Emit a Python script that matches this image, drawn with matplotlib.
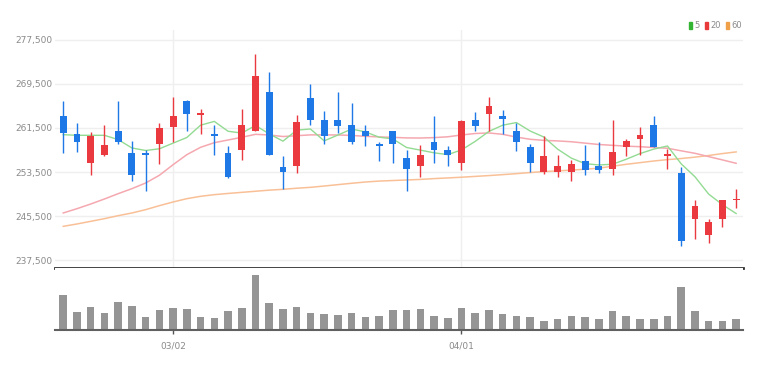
import numpy as np
import matplotlib
matplotlib.use("Agg")
import matplotlib.pyplot as plt
from matplotlib.patches import Patch

plt.rcParams["font.family"] = ["Liberation Sans Narrow", "DejaVu Sans"]

# ─── data ─────────────────────────────────────────────────────────────────────
tick_pos = [8, 29]
tick_labels = ["03/02", "04/01"]

opens = [263620, 260470, 255140, 256530, 260890, 256950, 256950, 258590, 261620, 266470,
         263920, 260410, 256950, 257560, 261020, 267980, 254470, 254530, 266950, 262950,
         262950, 262110, 260890, 258590, 260890, 256050, 254530, 258950, 257560, 255140,
         262950, 264050, 263620, 260890, 257990, 253500, 253500, 253500, 255440, 254530,
         254110, 257990, 259560, 261980, 256350, 253320, 245020, 241990, 245020, 248410]
highs = [266470, 262410, 260770, 262110, 266470, 259080, 257560, 262410, 267080, 266590,
         265010, 261980, 258170, 264950, 274950, 271680, 256470, 263920, 269500, 264530,
         267980, 266050, 262110, 258950, 261020, 257560, 258470, 263620, 258170, 263020,
         264410, 267080, 264830, 262410, 258590, 259980, 256530, 255740, 258470, 258950,
         263020, 259560, 261620, 263620, 257740, 254350, 248470, 245020, 248470, 250470]
lows = [256950, 257140, 253020, 256400, 258590, 251920, 249990, 254960, 258950, 261020,
        260410, 256650, 252500, 255740, 260890, 256500, 250470, 253320, 262110, 258590,
        260590, 258590, 258170, 255560, 255140, 250110, 252530, 255140, 254530, 253930,
        261020, 261020, 260410, 257380, 253500, 253140, 252530, 251800, 253020, 253320,
        253020, 256470, 256650, 257990, 254110, 239990, 241380, 240590, 243440, 246960]
closes = [260590, 258950, 259980, 258470, 258950, 253020, 256650, 261500, 263620, 264050,
          264230, 260110, 252530, 261980, 270890, 256650, 253500, 262530, 263020, 260110,
          261920, 258950, 259980, 258170, 258590, 254110, 256530, 257560, 256530, 262830,
          261920, 265560, 263200, 258950, 255140, 256470, 254530, 255020, 253930, 253930,
          257140, 259080, 260170, 257990, 256770, 240900, 247380, 244350, 248470, 248650]

ma5 = [260290, 260170, 260170, 260170, 259390, 257870, 257410, 257720, 258750, 259770,
       262010, 262700, 260910, 260580, 261950, 260430, 259110, 261110, 261320, 259160,
       260220, 261310, 260800, 259830, 259520, 257960, 257480, 256990, 256660, 257510,
       259070, 260880, 262010, 262490, 260950, 259860, 257660, 256020, 255020, 254780,
       254910, 255820, 256850, 257660, 258230, 254980, 252640, 249480, 247570, 245950]
ma20 = [246050, 246830, 247680, 248590, 249560, 250470, 251500, 252900, 254830, 256650,
        257990, 258830, 259320, 259810, 260350, 260230, 259950, 260100, 260250, 260250,
        260230, 260150, 259990, 259880, 259800, 259700, 259680, 259750, 259900, 260230,
        260500, 260600, 260350, 259850, 259450, 259250, 259150, 259000, 258750, 258500,
        258350, 258200, 258100, 257950, 257820, 257350, 256900, 256300, 255700, 255080]
ma60 = [243620, 244050, 244530, 245020, 245560, 246050, 246650, 247380, 248050, 248650,
        249080, 249380, 249600, 249800, 250000, 250200, 250350, 250550, 250710, 250950,
        251200, 251450, 251680, 251850, 251950, 252050, 252150, 252300, 252420, 252550,
        252700, 252850, 253020, 253200, 253400, 253580, 253700, 253850, 254000, 254200,
        254550, 254900, 255200, 255500, 255750, 255950, 256200, 256500, 256850, 257150]

volume = [210000, 110000, 136000, 100000, 166000, 146000, 80000, 120000, 130000, 126000,
          80000, 74000, 116000, 130000, 330000, 160000, 126000, 136000, 100000, 96000,
          90000, 100000, 76000, 86000, 120000, 122000, 126000, 86000, 72000, 132000,
          102000, 122000, 96000, 82000, 76000, 56000, 66000, 86000, 76000, 66000,
          112000, 86000, 66000, 66000, 82000, 256000, 116000, 56000, 56000, 66000]

price_ticks = [237500, 245500, 253500, 261500, 269500, 277500]

# ─── styling ──────────────────────────────────────────────────────────────────
UP = "#ea3a3f"
DOWN = "#1e78e6"
TXT = "#8a8a8a"

W, H = 775, 371
fig = plt.figure(figsize=(W / 100, H / 100), dpi=100)

ax = fig.add_axes([55 / W, 1 - 268 / H, 688 / W, 238 / H])
axv = fig.add_axes([55 / W, 1 - 330 / H, 688 / W, 62 / H], sharex=ax)

x = np.arange(len(closes))
o = np.array(opens)
c = np.array(closes)
colors = [UP if cc >= oo else DOWN for oo, cc in zip(o, c)]

# price panel
for t in price_ticks:
    ax.axhline(t, color="#efefef", lw=1, zorder=0)
for p in tick_pos:
    ax.axvline(p, color="#efefef", lw=1, zorder=0)

ax.plot(x, ma60, color="#f9c097", lw=1.1, zorder=1)
ax.plot(x, ma20, color="#f5a8b0", lw=1.1, zorder=1)
ax.plot(x, ma5, color="#93db93", lw=1.0, zorder=1)

ax.vlines(x, lows, highs, colors=colors, lw=1, zorder=2)
body_lo = np.minimum(o, c)
body_h = np.maximum(np.abs(c - o), 260)
ax.bar(x, body_h, bottom=body_lo, width=0.5, color=colors, zorder=3, linewidth=0)

ax.set_xlim(-0.6, 49.5)
ax.set_ylim(237500 - 8 * 181.8, 277500 + 10 * 181.8)
ax.set_yticks(price_ticks)
ax.set_yticklabels([f"{t:,}" for t in price_ticks])
ax.tick_params(axis="y", length=0, pad=2, labelsize=6.5, labelcolor=TXT)
ax.tick_params(axis="x", length=0, labelbottom=False)
for s in ("top", "left", "right"):
    ax.spines[s].set_visible(False)
ax.spines["bottom"].set_color("#333333")
ax.spines["bottom"].set_linewidth(2)

# volume panel
axv.bar(x, volume, width=0.55, color="#959595", linewidth=0)
axv.set_ylim(0, max(volume) * 62 / 55)
axv.set_yticks([])
axv.set_xticks(tick_pos)
axv.set_xticklabels(tick_labels)
axv.tick_params(axis="x", length=3, width=1, color="#555555", pad=5,
                labelsize=6.5, labelcolor=TXT)
for s in ("top", "left", "right"):
    axv.spines[s].set_visible(False)
axv.spines["bottom"].set_color("#606060")
axv.spines["bottom"].set_linewidth(1.5)

# legend
handles = [Patch(color="#33b533"), Patch(color="#e83a3a"), Patch(color="#f0a048")]
fig.legend(handles, ["5", "20", "60"], loc="upper right",
           bbox_to_anchor=(742 / W, 1 - 21 / H), ncol=3, frameon=False,
           fontsize=6, handlelength=0.35, handleheight=0.9, handletextpad=0.3,
           columnspacing=0.6, borderaxespad=0, borderpad=0, labelcolor=TXT)

fig.savefig("out.png", dpi=100)
